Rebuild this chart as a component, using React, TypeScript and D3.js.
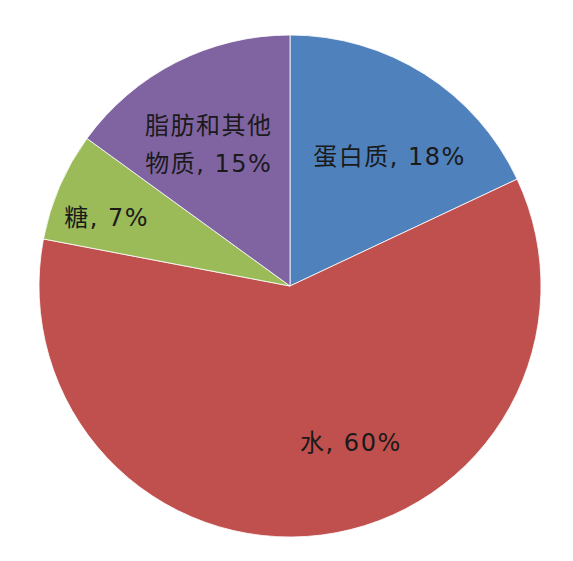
import React, { useRef, useEffect } from 'react';
import * as d3 from 'd3';

// Slices, clockwise from 12 o'clock
const categories = ['蛋白质', '水', '糖', '脂肪和其他物质'];
const values = [18, 60, 7, 15];
const labelLines = [['蛋白质, 18%'], ['水, 60%'], ['糖, 7%'], ['脂肪和其他', '物质, 15%']];
const colors = ['#4F81BD', '#C0504D', '#9BBB59', '#8064A2'];

type Slice = { name: string; value: number };

const App: React.FC = () => {
  const ref = useRef<SVGSVGElement | null>(null);

  const width = 573;
  const height = 561;

  useEffect(() => {
    if (!ref.current) return;
    const svg = d3.select(ref.current);
    svg.selectAll('*').remove();

    const cx = 290;
    const cy = 286;
    const radius = 251;

    const data: Slice[] = categories.map((name, i) => ({ name, value: values[i] }));

    const pie = d3.pie<Slice>().value((d) => d.value).sort(null);
    const arcs = pie(data);

    const arc = d3.arc<d3.PieArcDatum<Slice>>().innerRadius(0).outerRadius(radius);

    const g = svg.append('g').attr('transform', `translate(${cx},${cy})`);

    g.selectAll('path.slice')
      .data(arcs)
      .join('path')
      .attr('class', 'slice')
      .attr('d', arc)
      .attr('fill', (_d, i) => colors[i])
      .attr('stroke', '#ffffff')
      .attr('stroke-width', 0.8);

    // label placement: radius as fraction of pie radius + small angular nudge (radians)
    const labelPos = [
      { r: 0.65, da: 0.09 },
      { r: 0.67, da: -0.245 },
      { r: 0.78, da: -0.05 },
      { r: 0.65, da: -0.05 },
    ];

    const fontSize = 24;
    arcs.forEach((d, i) => {
      const mid = (d.startAngle + d.endAngle) / 2 + labelPos[i].da;
      const r = radius * labelPos[i].r;
      const x = Math.sin(mid) * r;
      const y = -Math.cos(mid) * r;
      const lines = labelLines[i];
      const t = g.append('text')
        .attr('x', x)
        .attr('y', y)
        .attr('text-anchor', 'middle')
        .attr('font-family', '"DejaVu Sans", "Noto Sans CJK SC", sans-serif')
        .attr('font-size', fontSize)
        .attr('letter-spacing', 1.5)
        .attr('fill', '#1a1a1a');
      lines.forEach((line, j) => {
        t.append('tspan')
          .attr('x', x)
          .attr('dy', j === 0 ? `${0.35 - (lines.length - 1) * 0.8}em` : '1.6em')
          .text(line);
      });
    });
  }, []);

  return (
    <svg
      ref={ref}
      width={width}
      height={height}
      style={{ position: 'absolute', left: 0, top: 0, background: '#ffffff' }}
    />
  );
};

export default App;
